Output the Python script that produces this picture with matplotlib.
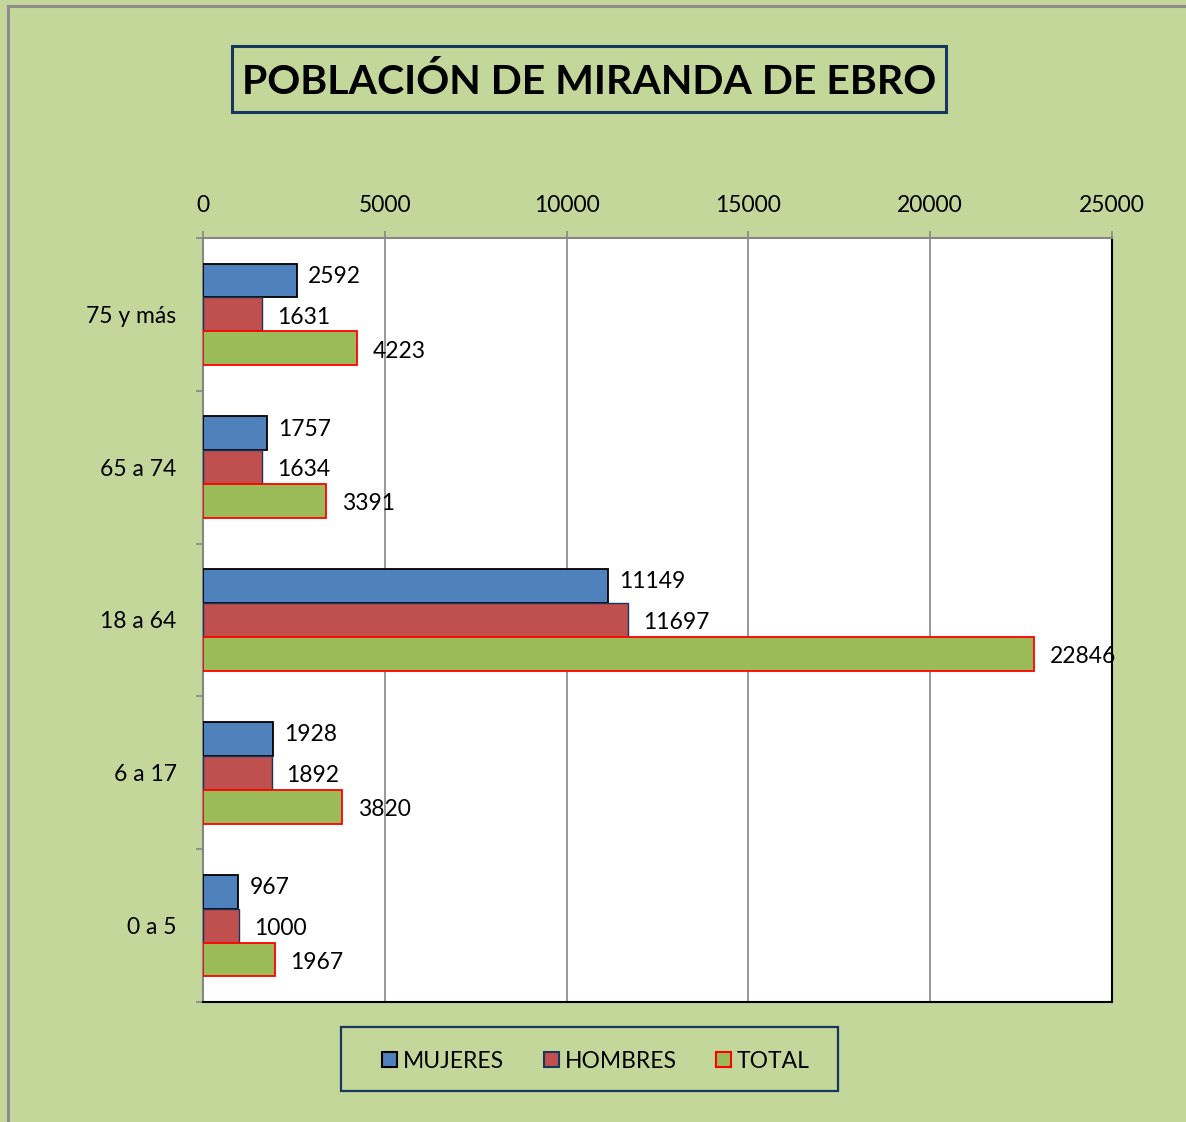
import matplotlib
matplotlib.use("Agg")
import matplotlib.pyplot as plt
from matplotlib.patches import Rectangle
from matplotlib.lines import Line2D
import numpy as np

plt.rcParams['font.family'] = ['Lato', 'DejaVu Sans']

categories = ["0 a 5", "6 a 17", "18 a 64", "65 a 74", "75 y más"]
mujeres = [967, 1928, 11149, 1757, 2592]
hombres = [1000, 1892, 11697, 1634, 1631]
total = [1967, 3820, 22846, 3391, 4223]
series_names = ["MUJERES", "HOMBRES", "TOTAL"]
xticks = [0, 5000, 10000, 15000, 20000, 25000]
title = "POBLACIÓN DE MIRANDA DE EBRO"

W, H = 1186, 1122
DPI = 100
BG = "#C4D79B"
BLUE = "#4F81BD"
RED = "#C0504D"
GREEN = "#9BBB59"
NAVY = "#17375E"

def fx(x):
    return x / W

def fy(y):
    return 1 - y / H

fig = plt.figure(figsize=(W / DPI, H / DPI), dpi=DPI, facecolor=BG)

# outer border (left and top)
fig.add_artist(Line2D([fx(8), fx(8)], [fy(6), fy(1122)], color="#8C8C8C", lw=2.2))
fig.add_artist(Line2D([fx(8), fx(1186)], [fy(6), fy(6)], color="#8C8C8C", lw=2.2))

ax = fig.add_axes([fx(203), fy(1002), fx(1112) - fx(203), fy(238) - fy(1002)])
ax.set_facecolor("white")

y = np.arange(len(categories))
h = 0.222
styles = [
    (mujeres, BLUE, "black", 1.3, h),
    (hombres, RED, NAVY, 1.0, 0),
    (total, GREEN, "#FF0000", 1.3, -h),
]
offsets = [(8, 3), (10.5, -2), (11.5, -2)]
for (vals, fc, ec, lw, off), (dx, dy) in zip(styles, offsets):
    ax.barh(y + off, vals, height=h, color=fc, edgecolor=ec, linewidth=lw, zorder=3)
    for yi, v in zip(y, vals):
        ax.annotate(str(v), (v, yi + off), xytext=(dx, dy), textcoords="offset points",
                    ha="left", va="center", fontsize=16.5, color="black", zorder=5,
                    annotation_clip=False)

ax.set_xlim(0, 25000)
ax.set_ylim(-0.5, len(categories) - 0.5)
ax.xaxis.tick_top()
ax.set_xticks(xticks)
ax.set_xticklabels([str(t) for t in xticks], fontsize=16.5)
ax.tick_params(axis="x", length=5, width=1.2, color="#868686", pad=11, direction="out")
ax.set_yticks(y)
ax.set_yticklabels(categories, fontsize=16.5)
ax.set_yticks(np.arange(-0.5, len(categories), 1), minor=True)
ax.tick_params(axis="y", which="major", length=0, pad=19)
ax.tick_params(axis="y", which="minor", length=5, width=1.2, color="#868686")
ax.xaxis.grid(True, color="#868686", lw=1.2, zorder=1)
ax.set_axisbelow(True)
for s in ["top", "left"]:
    ax.spines[s].set_color("#868686")
    ax.spines[s].set_linewidth(1.5)
for s in ["right", "bottom"]:
    ax.spines[s].set_color("black")
    ax.spines[s].set_linewidth(1.5)

# title box
fig.add_artist(Rectangle((fx(232), fy(112)), fx(946) - fx(232), fy(46) - fy(112),
                         transform=fig.transFigure, facecolor=BG, edgecolor=NAVY, lw=2.2))
fig.text(fx(589), fy(82), title, ha="center", va="center", fontsize=29.5,
         fontweight="bold", color="black")

# legend box
fig.add_artist(Rectangle((fx(341), fy(1091)), fx(838) - fx(341), fy(1027) - fy(1091),
                         transform=fig.transFigure, facecolor=BG, edgecolor=NAVY, lw=1.6))
leg_items = [(382, BLUE, "black"), (544, RED, NAVY), (716, GREEN, "#FF0000")]
for (x0, fc, ec), name in zip(leg_items, series_names):
    fig.add_artist(Rectangle((fx(x0), fy(1067)), fx(15), 15 / H,
                             transform=fig.transFigure, facecolor=fc, edgecolor=ec, lw=1.5))
    fig.text(fx(x0 + 21), fy(1061), name, ha="left", va="center", fontsize=16.5, color="black")

fig.savefig("out.png", dpi=DPI, facecolor=BG)
